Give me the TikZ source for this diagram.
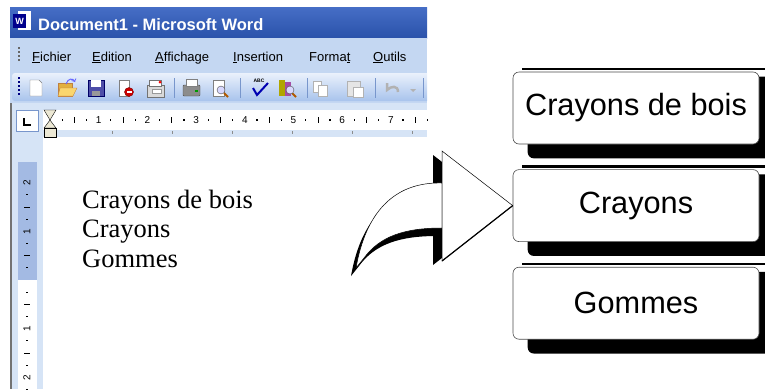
\documentclass[tikz,border=0pt]{standalone}
\usepackage{fontspec}
\setmainfont{Liberation Serif}
\newfontfamily\uisans{Liberation Sans}
\usetikzlibrary{positioning,calc,backgrounds}
\definecolor{xptitle}{RGB}{42,82,170}
\definecolor{xptitlehi}{RGB}{70,110,198}
\definecolor{xpmenu}{RGB}{196,215,242}
\definecolor{xpbarhi}{RGB}{234,241,252}
\definecolor{xpbarlo}{RGB}{168,195,236}
\definecolor{xpruler}{RGB}{214,228,246}
\definecolor{xpband}{RGB}{163,186,227}
\definecolor{xpsep}{RGB}{120,150,204}
\definecolor{xphour}{RGB}{236,232,212}
\begin{document}
\begin{tikzpicture}[x=1pt, y=-1pt,
  menu/.style={anchor=base west, inner sep=0pt, font=\uisans\fontsize{13}{13}\selectfont},
  rulenum/.style={inner sep=0pt, font=\uisans\fontsize{10}{10}\selectfont},
  sep/.style={draw=xpsep, line width=1pt},
  doc/.style={anchor=base west, inner sep=0pt, font=\fontsize{26.5}{26.5}\selectfont},
  boite/.style={draw=black!70, line width=0.6pt, fill=white, rounded corners=6pt,
    minimum width=246pt, minimum height=72pt, inner sep=0pt,
    font=\uisans\fontsize{30.7}{30.7}\selectfont}]
\useasboundingbox (0,0) rectangle (765,389);

% fenetre Word
\shade[top color=xptitlehi, bottom color=xptitle] (10,7) rectangle (427,38);
\fill[white] (18,11) rectangle (31,30); \fill[blue!55!black] (13,14) rectangle (26,28);
\node[white, font=\uisans\bfseries\fontsize{9}{9}\selectfont] (wicon) at (19.5,21) {W};
\node[anchor=base west, inner sep=0pt, white, font=\uisans\bfseries\fontsize{16.5}{16.5}\selectfont] (titre) at (38,30) {Document1 - Microsoft Word};
\fill[xpmenu] (10,38) rectangle (427,103);
\foreach \y in {47,51,55,59} \fill[black!60] (18,\y) rectangle ++(2,2);
\node[menu] (fichier) at (32,61) {\underline{F}ichier};
\node[menu] (edition) at (92,61) {\underline{E}dition};
\node[menu] (affichage) at (155,61) {\underline{A}ffichage};
\node[menu] (insertion) at (233,61) {\underline{I}nsertion};
\node[menu] (format) at (309,61) {Forma\underline{t}};
\node[menu] (outils) at (373,61) {\underline{O}utils};

% barre d'outils
\begin{scope}
\clip (10,70) rectangle (427,103);
\shade[top color=xpbarhi, bottom color=xpbarlo, rounded corners=3pt] (12,73) rectangle (436,101);
\end{scope}
\foreach \y in {77,81,85,89,93} \fill[black!50!blue] (18,\y) rectangle ++(2,2);
\draw[fill=white, draw=black!50] (30,80) -- (39,80) -- (42,83) -- (42,96) -- (30,96) -- cycle;
\draw[fill={rgb,255:red,226;green,176;blue,64}, draw=brown] (58,83) rectangle (72,96);
\draw[fill={rgb,255:red,250;green,214;blue,110}, draw=brown] (60,88) -- (77,88) -- (73,96) -- (58,96) -- cycle;
\draw[blue!60, line width=1pt, ->] (66,84) .. controls (68,78) and (73,78) .. (75,82);
\draw[fill={rgb,255:red,78;green,78;blue,168}, draw=blue!40!black] (88,80) rectangle (104,96);
\fill[white] (91,80) rectangle (101,87); \fill[black!40] (92,91) rectangle (100,96);
\draw[fill=white, draw=black!50] (119,80) rectangle (129,96);
\draw[fill=red!80!black, draw=red!50!black] (129,92) circle (4.5); \fill[white] (126.5,91.3) rectangle (131.5,92.7);
\draw[fill=black!15, draw=black!55] (147,85) rectangle (164,97);
\draw[fill=white, draw=black!55] (149,80) rectangle (161,86); \fill[red] (160,82) circle (1.5);
\draw[fill=white, draw=black!40] (152,89) rectangle (161,93);
\draw[sep] (174,78) -- (174,98);
\draw[fill=black!45, draw=black!70, rounded corners=1pt] (183,85) rectangle (200,96);
\draw[fill=white, draw=black!50] (186,79) rectangle (197,86); \fill[green!60!black] (195,90) rectangle ++(3,2);
\draw[fill=white, draw=black!50] (213,80) rectangle (224,96);
\draw[orange!70!black, line width=2pt] (224,93) -- (228,97);
\draw[fill=blue!15, draw=black!70] (221,90) circle (4);
\draw[sep] (240,78) -- (240,98);
\node[inner sep=0pt, font=\uisans\bfseries\fontsize{5}{5}\selectfont] (abc) at (259,81) {ABC};
\draw[blue!70!black, line width=2pt] (253,88) -- (257,95) -- (268,83);
\fill[olive!70!yellow] (279,80) rectangle (285,96); \fill[violet!70] (285,82) rectangle (291,96);
\draw[orange!70!black, line width=2pt] (292,93) -- (296,97);
\draw[fill=blue!15, draw=black!70] (290,90) circle (4);
\draw[sep] (307,78) -- (307,98);
\draw[fill=white, draw=black!30] (313,81) rectangle (321,92); \draw[fill=white, draw=black!30] (318,85) rectangle (327,96);
\draw[fill=black!10, draw=black!30] (347,81) rectangle (360,96); \draw[fill=white, draw=black!30] (353,87) rectangle (363,97);
\draw[sep] (375,78) -- (375,98);
\draw[black!30, line width=2.5pt] (387,83) -- (387,90) .. controls (391,86) and (398,85) .. (398,92);
\fill[black!30] (410,89) -- (416,89) -- (413,92) -- cycle;
\draw[sep] (423,78) -- (423,98);

% regles
\fill[xpruler] (11,103) rectangle (427,389);
\draw[black!55, line width=1.5pt] (11,103) -- (11,389);
\fill[white] (43,110) rectangle (427,130);
\fill[white] (43,137) rectangle (427,389);
\draw[fill=white, draw=xpsep] (16,110) rectangle (38,131);
\draw[line width=2pt] (24,118) -- (24,125) -- (31,125);
\draw[fill=xphour] (44,110) -- (56,110) -- (50,120) -- cycle;
\draw[fill=xphour] (50,120) -- (56,128) -- (44,128) -- cycle;
\draw[fill=xphour] (44,128) rectangle (56,137);
\foreach \n in {1,...,7} \node[rulenum] (h\n) at (50+48.7*\n,120) {\n};
\foreach \n in {0,...,7} {
  \fill ($(50+48.7*\n+12.17,120)+(-0.6,-0.6)$) rectangle ++(1.2,1.2);
  \draw[line width=0.6pt] (50+48.7*\n+24.35,117) -- ++(0,6);
  \fill ($(50+48.7*\n+36.52,120)+(-0.6,-0.6)$) rectangle ++(1.2,1.2);
}
\foreach \x in {112,172,...,412} \draw[black!45] (\x,131) -- (\x,134);
\fill[xpband] (18,162) rectangle (37,280);
\fill[white] (18,280) rectangle (37,389);
\foreach \n/\s in {1/-1,2/-1,1/1,2/1} \node[rulenum, rotate=90] at (27,280+\s*48.7*\n) {\n};
\foreach \n in {0,1} \foreach \s in {-1,1} {
  \fill ($(27,280+\s*48.7*\n+\s*12.17)+(-0.6,-0.6)$) rectangle ++(1.2,1.2);
  \draw[line width=0.6pt] (24,280+\s*48.7*\n+\s*24.35) -- ++(6,0);
  \fill ($(27,280+\s*48.7*\n+\s*36.52)+(-0.6,-0.6)$) rectangle ++(1.2,1.2);
}
\fill ($(27,280+48.7*2+12.17)+(-0.6,-0.6)$) rectangle ++(1.2,1.2);

% texte du document
\node[doc] (tbois) at (82,208) {Crayons de bois};
\node[doc] (tcrayons) at (82,237.5) {Crayons};
\node[doc] (tgommes) at (82,267) {Gommes};

% etiquettes
\node[boite] (bois) at (636,108) {Crayons de bois};
\node[boite, below=25pt of bois] (crayons) {Crayons};
\node[boite, below=25pt of crayons] (gommes) {Gommes};
\begin{pgfonlayer}{background}
\foreach \b in {bois,crayons,gommes} {
  \fill[rounded corners=6pt] ($(\b.north west)+(15,5)$) rectangle ($(\b.south east)+(17,14)$);
  \fill ($(\b.north west)+(9,-4)$) rectangle ($(\b.north east)+(6,-1.5)$);
}
\end{pgfonlayer}

% fleche courbe
\coordinate (pointe) at (crayons.west);
\fill[shift={(-5,8)}] (442,183) .. controls (405,182) and (368,200) .. (356,268) -- (364,258) .. controls (380,236) and (405,228) .. (442,228) -- cycle;
\fill (433,155) -- ($(pointe)+(-9,4)$) -- (433,265) -- cycle;
\draw[fill=white, line width=0.5pt] (442,183) .. controls (405,182) and (368,200) .. (356,268) -- (364,258) .. controls (380,236) and (405,228) .. (442,228) -- cycle;
\draw[fill=white, line width=0.5pt] (442,151) -- (pointe) -- (442,261) -- cycle;
\draw[line width=1.2pt] (442,261) -- (pointe);
\end{tikzpicture}
\end{document}
